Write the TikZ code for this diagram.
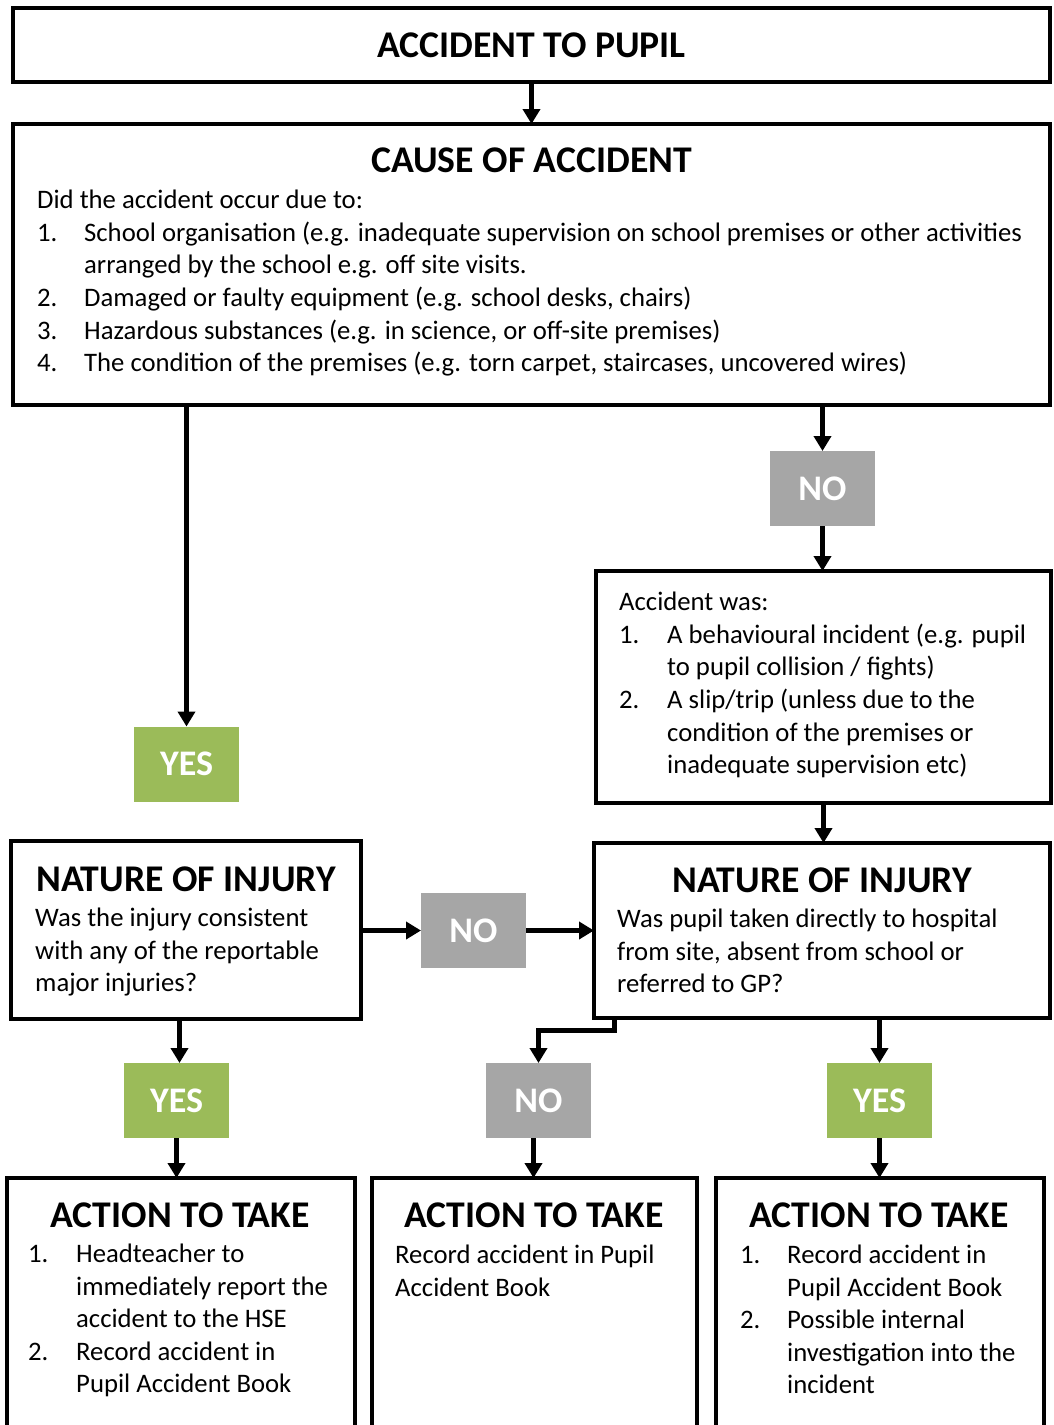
\documentclass[tikz,border=0pt]{standalone}
\usepackage{fontspec}
\setmainfont{Carlito}
\usetikzlibrary{arrows.meta,calc}
\definecolor{yesgreen}{HTML}{9BBB59}
\definecolor{nogrey}{HTML}{A6A6A6}
\begin{document}
\begin{tikzpicture}[x=1pt,y=-1pt,
  box/.style={draw=black,line width=4pt,anchor=north west,inner sep=0pt,outer sep=0pt,fill=white},
  body/.style={anchor=base west,inner sep=0pt,font=\fontsize{26.7}{32}\selectfont},
  head/.style={anchor=base,inner sep=0pt,font=\fontsize{37.7}{42}\selectfont\bfseries},
  lab/.style={minimum width=105pt,minimum height=75pt,inner sep=0pt,outer sep=0pt,text=white,font=\fontsize{36}{40}\selectfont\bfseries},
  yes/.style={lab,fill=yesgreen},
  no/.style={lab,fill=nogrey},
  arr/.style={line width=5pt,-{Triangle[width=17pt,length=15pt]}}]
\useasboundingbox (0,0) rectangle (1054,1425);
\clip (0,0) rectangle (1054,1425);
% boxes
\node[box,minimum width=1037pt,minimum height=74pt] (b1) at (13,8) {};
\node[box,minimum width=1037pt,minimum height=281pt] (b2) at (13,124) {};
\node[box,minimum width=455pt,minimum height=232pt] (b3) at (596,571) {};
\node[box,minimum width=350pt,minimum height=178pt] (b4) at (11,841) {};
\node[box,minimum width=456pt,minimum height=175pt] (b5) at (594,843) {};
\node[box,minimum width=348pt,minimum height=280pt] (b6) at (7,1178) {};
\node[box,minimum width=325pt,minimum height=280pt] (b7) at (372,1178) {};
\node[box,minimum width=328pt,minimum height=280pt] (b8) at (716,1178) {};
% labels
\node[yes] (yes1) at (186.5,764) {YES};
\node[no] (no1) at (822.5,488.5) {NO};
\node[no] (no2) at (473.5,930.5) {NO};
\node[yes] (yes2) at (176.5,1100.5) {YES};
\node[no] (no3) at (538.5,1100.5) {NO};
\node[yes] (yes3) at (879.5,1100.5) {YES};
% box 1
\node[head] (t1) at (531.5,57) {ACCIDENT TO PUPIL};
% box 2
\node[head] (t2) at (531.5,172) {CAUSE OF ACCIDENT};
\node[body] (b2l0) at (37,208.5) {Did the accident occur due to:};
\node[body] (b2n1) at (37,241) {1.};
\node[body] (b2l1) at (84,241) {School organisation (e.g. inadequate supervision on school premises or other activities};
\node[body] (b2l2) at (84,273.5) {arranged by the school e.g. off site visits.};
\node[body] (b2n2) at (37,306.5) {2.};
\node[body] (b2l3) at (84,306.5) {Damaged or faulty equipment (e.g. school desks, chairs)};
\node[body] (b2n3) at (37,339) {3.};
\node[body] (b2l4) at (84,339) {Hazardous substances (e.g. in science, or off-site premises)};
\node[body] (b2n4) at (37,371.5) {4.};
\node[body] (b2l5) at (84,371.5) {The condition of the premises (e.g. torn carpet, staircases, uncovered wires)};
% box 3
\node[body] (b3l0) at (619,610.5) {Accident was:};
\node[body] (b3n1) at (619,643) {1.};
\node[body] (b3l1) at (667,643) {A behavioural incident (e.g. pupil};
\node[body] (b3l2) at (667,675.5) {to pupil collision / fights)};
\node[body] (b3n2) at (619,708.5) {2.};
\node[body] (b3l3) at (667,708.5) {A slip/trip (unless due to the};
\node[body] (b3l4) at (667,741) {condition of the premises or};
\node[body] (b3l5) at (667,773.5) {inadequate supervision etc)};
% box 4
\node[head] (t4) at (186,891) {NATURE OF INJURY};
\node[body] (b4l1) at (35,926.5) {Was the injury consistent};
\node[body] (b4l2) at (35,959) {with any of the reportable};
\node[body] (b4l3) at (35,991.5) {major injuries?};
% box 5
\node[head] (t5) at (822,892) {NATURE OF INJURY};
\node[body] (b5l1) at (617,927.5) {Was pupil taken directly to hospital};
\node[body] (b5l2) at (617,960) {from site, absent from school or};
\node[body] (b5l3) at (617,992.5) {referred to GP?};
% box 6
\node[head] (t6) at (180,1227) {ACTION TO TAKE};
\node[body] (b6n1) at (28,1262.5) {1.};
\node[body] (b6l1) at (76,1262.5) {Headteacher to};
\node[body] (b6l2) at (76,1295) {immediately report the};
\node[body] (b6l3) at (76,1327.5) {accident to the HSE};
\node[body] (b6n2) at (28,1360) {2.};
\node[body] (b6l4) at (76,1360) {Record accident in};
\node[body] (b6l5) at (76,1392.5) {Pupil Accident Book};
% box 7
\node[head] (t7) at (534,1227) {ACTION TO TAKE};
\node[body] (b7l1) at (395,1263.5) {Record accident in Pupil};
\node[body] (b7l2) at (395,1296) {Accident Book};
% box 8
\node[head] (t8) at (879,1227) {ACTION TO TAKE};
\node[body] (b8n1) at (740,1263.5) {1.};
\node[body] (b8l1) at (787,1263.5) {Record accident in};
\node[body] (b8l2) at (787,1296) {Pupil Accident Book};
\node[body] (b8n2) at (740,1328.5) {2.};
\node[body] (b8l3) at (787,1328.5) {Possible internal};
\node[body] (b8l4) at (787,1361) {investigation into the};
\node[body] (b8l5) at (787,1393.5) {incident};
% connectors
\draw[arr] (b1.south) -- (b2.north);
\draw[arr] (yes1.north |- b2.south) -- (yes1.north);
\draw[arr] (no1.north |- b2.south) -- (no1.north);
\draw[arr] (no1.south) -- (no1.south |- b3.north);
\draw[arr] (b3.south) -- (b3.south |- b5.north);
\draw[arr] (b4.east |- no2.west) -- (no2.west);
\draw[arr] (no2.east) -- (no2.east -| b5.west);
\draw[arr] ([xshift=3pt]yes2.north |- b4.south) -- ([xshift=3pt]yes2.north);
\draw[arr] (yes2.south) -- (yes2.south |- b6.north);
\draw[arr] ([xshift=20pt]b5.south west) -- ++(0,12) -| (no3.north);
\draw[arr] ([xshift=-5pt]no3.south) -- ([xshift=-5pt]no3.south |- b7.north);
\draw[arr] (yes3.north |- b5.south) -- (yes3.north);
\draw[arr] (yes3.south) -- (yes3.south |- b8.north);
\end{tikzpicture}
\end{document}
